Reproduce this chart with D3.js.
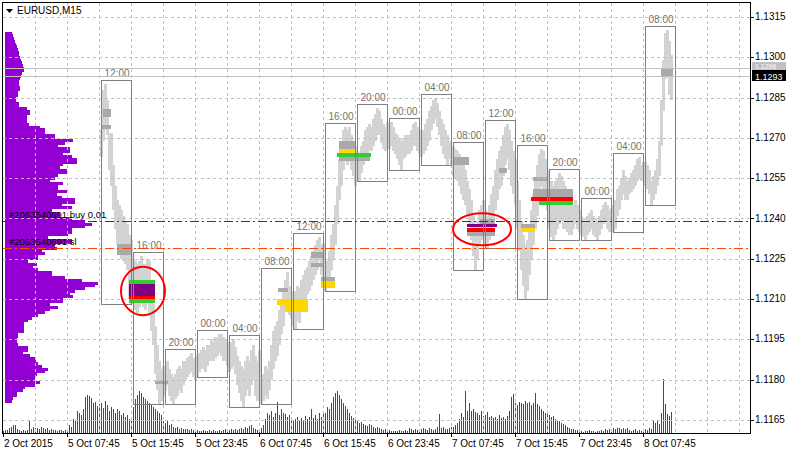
<!DOCTYPE html>
<html>
<head>
<meta charset="utf-8">
<title>EURUSD,M15</title>
<script src="https://d3js.org/d3.v7.min.js"></script>
<style>
  body { margin: 0; background: #fff; }
  text { font-family: "Liberation Sans", Arial, sans-serif; }
</style>
</head>
<body>
<svg id="chart" width="790" height="452"></svg>
<script>
// M15 bars starting 5 Oct 2015 12:00, grouped by 4h period (16 bars each)
const highs = [
  1.1273,1.1288,1.1290,1.1284,1.1272,1.1272,1.1260,1.1252,1.1247,1.1245,1.1243,1.1241,1.1239,1.1238,1.1234,1.1232,
  1.1225,1.1224,1.1223,1.1224,1.1226,1.1223,1.1223,1.1225,1.1224,1.1213,1.1208,1.1200,1.1193,1.1187,1.1184,1.1185,
  1.1185,1.1187,1.1184,1.1182,1.1181,1.1182,1.1184,1.1185,1.1184,1.1187,1.1187,1.1188,1.1189,1.1190,1.1188,1.1187,
  1.1189,1.1190,1.1191,1.1192,1.1191,1.1193,1.1193,1.1195,1.1194,1.1196,1.1196,1.1197,1.1197,1.1196,1.1195,1.1194,
  1.1193,1.1194,1.1195,1.1192,1.1189,1.1187,1.1185,1.1184,1.1187,1.1189,1.1187,1.1191,1.1193,1.1189,1.1187,1.1191,
  1.1180,1.1182,1.1185,1.1184,1.1187,1.1193,1.1198,1.1200,1.1202,1.1206,1.1210,1.1213,1.1217,1.1220,1.1215,1.1213,
  1.1212,1.1213,1.1215,1.1214,1.1217,1.1219,1.1221,1.1222,1.1224,1.1226,1.1228,1.1230,1.1232,1.1233,1.1230,1.1231,
  1.1225,1.1224,1.1228,1.1234,1.1238,1.1245,1.1252,1.1262,1.1269,1.1273,1.1274,1.1273,1.1274,1.1271,1.1269,1.1267,
  1.1265,1.1264,1.1267,1.1269,1.1273,1.1274,1.1275,1.1274,1.1277,1.1279,1.1281,1.1280,1.1277,1.1275,1.1274,1.1276,
  1.1275,1.1276,1.1274,1.1272,1.1271,1.1270,1.1269,1.1270,1.1271,1.1271,1.1271,1.1273,1.1275,1.1276,1.1274,1.1273,
  1.1271,1.1273,1.1275,1.1277,1.1280,1.1282,1.1284,1.1285,1.1283,1.1280,1.1277,1.1275,1.1273,1.1271,1.1269,1.1267,
  1.1267,1.1266,1.1265,1.1264,1.1262,1.1260,1.1258,1.1254,1.1251,1.1247,1.1241,1.1238,1.1239,1.1243,1.1245,1.1247,
  1.1243,1.1241,1.1245,1.1249,1.1252,1.1258,1.1262,1.1265,1.1267,1.1271,1.1274,1.1275,1.1273,1.1269,1.1265,1.1262,
  1.1254,1.1247,1.1239,1.1234,1.1230,1.1232,1.1238,1.1243,1.1249,1.1254,1.1260,1.1264,1.1266,1.1265,1.1262,1.1258,
  1.1252,1.1254,1.1252,1.1254,1.1255,1.1257,1.1256,1.1254,1.1252,1.1251,1.1249,1.1247,1.1245,1.1247,1.1245,1.1243,
  1.1241,1.1240,1.1239,1.1241,1.1242,1.1243,1.1241,1.1240,1.1239,1.1241,1.1243,1.1245,1.1246,1.1245,1.1243,1.1244,
  1.1245,1.1247,1.1251,1.1252,1.1255,1.1258,1.1256,1.1254,1.1255,1.1257,1.1258,1.1260,1.1262,1.1263,1.1260,1.1261,
  1.1261,1.1260,1.1258,1.1254,1.1256,1.1258,1.1262,1.1269,1.1284,1.1299,1.1309,1.1310,1.1306,1.1301
];
const lows = [
  1.1263,1.1269,1.1273,1.1271,1.1258,1.1252,1.1243,1.1236,1.1230,1.1228,1.1225,1.1224,1.1223,1.1221,1.1210,1.1208,
  1.1210,1.1206,1.1205,1.1207,1.1210,1.1207,1.1206,1.1210,1.1204,1.1198,1.1193,1.1182,1.1176,1.1171,1.1172,1.1174,
  1.1176,1.1178,1.1174,1.1172,1.1171,1.1173,1.1174,1.1176,1.1175,1.1178,1.1180,1.1181,1.1182,1.1183,1.1181,1.1180,
  1.1181,1.1183,1.1184,1.1184,1.1183,1.1185,1.1187,1.1187,1.1187,1.1188,1.1189,1.1190,1.1189,1.1187,1.1187,1.1185,
  1.1183,1.1184,1.1185,1.1182,1.1178,1.1175,1.1172,1.1170,1.1174,1.1176,1.1174,1.1178,1.1180,1.1174,1.1172,1.1178,
  1.1171,1.1172,1.1174,1.1173,1.1176,1.1180,1.1184,1.1187,1.1189,1.1193,1.1197,1.1200,1.1206,1.1210,1.1204,1.1203,
  1.1200,1.1199,1.1202,1.1201,1.1206,1.1207,1.1210,1.1212,1.1213,1.1215,1.1217,1.1219,1.1221,1.1224,1.1219,1.1217,
  1.1213,1.1214,1.1217,1.1221,1.1225,1.1230,1.1238,1.1247,1.1252,1.1258,1.1262,1.1260,1.1264,1.1258,1.1256,1.1252,
  1.1256,1.1254,1.1257,1.1260,1.1262,1.1264,1.1265,1.1265,1.1267,1.1269,1.1271,1.1271,1.1268,1.1266,1.1265,1.1267,
  1.1266,1.1267,1.1265,1.1264,1.1262,1.1260,1.1258,1.1262,1.1263,1.1264,1.1264,1.1265,1.1267,1.1267,1.1265,1.1264,
  1.1263,1.1264,1.1265,1.1267,1.1269,1.1273,1.1275,1.1277,1.1274,1.1271,1.1267,1.1264,1.1262,1.1260,1.1262,1.1260,
  1.1256,1.1255,1.1254,1.1252,1.1249,1.1247,1.1245,1.1241,1.1238,1.1232,1.1226,1.1221,1.1225,1.1230,1.1232,1.1232,
  1.1230,1.1229,1.1232,1.1234,1.1238,1.1243,1.1247,1.1251,1.1252,1.1256,1.1260,1.1262,1.1258,1.1252,1.1249,1.1245,
  1.1236,1.1228,1.1221,1.1215,1.1210,1.1213,1.1219,1.1225,1.1230,1.1236,1.1241,1.1247,1.1252,1.1251,1.1247,1.1243,
  1.1236,1.1233,1.1232,1.1234,1.1236,1.1238,1.1239,1.1236,1.1236,1.1235,1.1234,1.1234,1.1236,1.1238,1.1236,1.1235,
  1.1234,1.1233,1.1232,1.1234,1.1235,1.1236,1.1234,1.1233,1.1232,1.1234,1.1236,1.1238,1.1239,1.1236,1.1235,1.1236,
  1.1235,1.1236,1.1241,1.1243,1.1247,1.1249,1.1247,1.1247,1.1249,1.1250,1.1251,1.1252,1.1254,1.1255,1.1254,1.1254,
  1.1252,1.1251,1.1249,1.1245,1.1247,1.1249,1.1252,1.1256,1.1267,1.1280,1.1292,1.1293,1.1286,1.1284
];
const periodLabels = ["12:00","16:00","20:00","00:00","04:00","08:00",
                      "12:00","16:00","20:00","00:00","04:00","08:00",
                      "12:00","16:00","20:00","00:00","04:00","08:00"];

// tick volume, one per M15 bar, first bar = 2 Oct 23:45 (bar index -49)
const volumes = [
  2,3,3,5,6,8,8,4,3,2,3,2,3,12,4,6,5,5,4,6,5,4,5,3,4,3,3,2,3,3,2,3,3,
  8,6,14,12,22,20,18,24,36,38,37,35,30,31,27,29,
  30,25,32,28,22,26,24,20,24,22,18,20,16,18,14,15,
  26,34,38,42,40,36,34,32,30,28,26,24,22,20,18,12,
  10,12,8,9,6,5,6,4,5,4,4,4,3,4,3,3,
  3,2,2,3,2,2,3,2,3,2,2,3,2,3,4,3,
  3,4,3,4,3,4,5,4,6,5,7,8,5,4,3,3,
  5,8,14,20,18,22,16,20,31,18,24,20,19,16,18,14,
  12,14,16,12,15,13,17,14,16,24,15,18,14,20,16,22,
  20,26,24,30,36,40,42,38,34,30,27,24,20,17,15,14,
  12,10,11,9,8,7,9,8,6,5,6,5,4,3,4,4,
  3,2,2,2,2,3,2,2,3,2,5,4,3,4,3,3,
  4,5,4,3,5,4,3,4,6,19,5,6,4,4,5,6,
  6,8,10,14,20,16,42,22,30,22,24,21,20,18,22,17,
  18,21,16,17,15,16,14,18,15,16,14,17,22,36,39,30,
  28,31,30,29,32,30,31,28,30,40,29,27,24,22,20,22,
  18,16,17,14,13,12,10,9,8,6,5,4,4,3,3,2,
  2,1,2,2,3,2,2,1,2,2,3,2,4,3,4,4,
  5,4,5,5,4,5,4,5,3,2,3,4,2,3,2,4,
  4,3,5,4,13,10,12,9,20,54,29,19,17,21
];

// market profile, one row per pip from 1.1309 downwards
const profileTop = 1.1309;
const profile = [
  7,8,9,10,11,12,13,14,14,15, 16,17,18,19,19,17,16,15,14,14,
  15,15,13,13,11,11,14,14,22,25, 25,22,22,22,24,35,40,40,50,50,
  68,60,53,65,65,58,67,72,72,58, 55,62,62,53,50,45,58,53,53,62,
  52,57,70,70,57,67,47,55,55,67, 80,87,80,67,67,63,43,67,67,50,
  52,37,40,33,33,23,32,28,33,47, 47,60,77,93,90,80,70,65,68,58,
  58,45,53,45,40,33,27,23,19,19, 19,19,13,13,12,12,13,23,23,18,
  25,31,31,33,37,43,40,32,30,30, 35,30,20,18,12,12,8,7
];

// levels drawn inside the periods (bar index range, price range)
const zones = [
  {from:1, to:5, hi:1.12808, lo:1.12778, kind:"level"},
  {from:0, to:5, hi:1.12748, lo:1.12733, kind:"level"},
  {from:8, to:15.5, hi:1.12305, lo:1.12264, kind:"level"},
  {from:27, to:33.5, hi:1.11795, lo:1.11784, kind:"level"},
  {from:88.5, to:93.5, hi:1.12141, lo:1.12126, kind:"level"},
  {from:105, to:111, hi:1.12275, lo:1.12253, kind:"level"},
  {from:105, to:111, hi:1.12234, lo:1.12219, kind:"level"},
  {from:110, to:117, hi:1.12182, lo:1.12167, kind:"level"},
  {from:119, to:127, hi:1.12688, lo:1.12659, kind:"level"},
  {from:119, to:134.5, hi:1.12629, lo:1.12614, kind:"level"},
  {from:176, to:184, hi:1.12629, lo:1.12599, kind:"level"},
  {from:199, to:203, hi:1.12588, lo:1.12569, kind:"level"},
  {from:183, to:197, hi:1.12350, lo:1.12335, kind:"level"},
  {from:189.5, to:197, hi:1.12398, lo:1.12380, kind:"level"},
  {from:216, to:223, hi:1.12554, lo:1.12540, kind:"level"},
  {from:216, to:236, hi:1.12510, lo:1.12480, kind:"level"},
  {from:210, to:217, hi:1.12380, lo:1.12365, kind:"level"},
  {from:280, to:286, hi:1.12960, lo:1.12930, kind:"level"},
  {from:14, to:27, hi:1.12171, lo:1.12156, kind:"green"},
  {from:14, to:27, hi:1.12156, lo:1.12112, kind:"purple"},
  {from:14, to:27, hi:1.12112, lo:1.12100, kind:"red"},
  {from:14, to:27, hi:1.12100, lo:1.12086, kind:"green"},
  {from:88, to:103.5, hi:1.12100, lo:1.12078, kind:"yellow"},
  {from:92, to:103.5, hi:1.12078, lo:1.12052, kind:"yellow"},
  {from:110, to:117, hi:1.12167, lo:1.12141, kind:"yellow"},
  {from:119, to:127, hi:1.12659, lo:1.12644, kind:"yellow"},
  {from:118, to:135, hi:1.12644, lo:1.12629, kind:"green"},
  {from:183, to:198, hi:1.12380, lo:1.12368, kind:"purple"},
  {from:183, to:197, hi:1.12365, lo:1.12350, kind:"red"},
  {from:210, to:217, hi:1.12365, lo:1.12350, kind:"yellow"},
  {from:215, to:236, hi:1.12480, lo:1.12465, kind:"red"},
  {from:219, to:236, hi:1.12465, lo:1.12450, kind:"green"}
];
const circles = [
  {from:10, to:32, hi:1.1222, lo:1.1204},
  {from:176, to:205, hi:1.1242, lo:1.1230}
];
const orders = [
  {price:1.1239, label:"#2063540691 buy 0.01", kind:"buy"},
  {price:1.1229, label:"#2063540691 sl", kind:"sl"}
];
const ask = 1.1296, bid = 1.1293;

const priceTicks = d3.range(0, 11).map(k => 1.1165 + k * 0.0015);
const timeTicks = [-49, -17, 15, 47, 79, 111, 143, 175, 207, 239, 271];
const timeLabels = ["2 Oct 2015","5 Oct 07:45","5 Oct 15:45","5 Oct 23:45","6 Oct 07:45",
                    "6 Oct 15:45","6 Oct 23:45","7 Oct 07:45","7 Oct 15:45","7 Oct 23:45","8 Oct 07:45"];

const zoneColor = {level:"#a9a9a9", green:"#32cd32", purple:"#800080", red:"#ff0000", yellow:"#ffd700"};

// plot frame
const L = 2, R = 750, T = 2, B = 433;

const x = d3.scaleLinear().domain([-49, 324]).range([3, 749]);
const y = d3.scaleLinear().domain([1.1165, 1.1315]).range([420, 17]);
const vy = d3.scaleLinear().domain([0, 60]).range([B, B - 60]);
const px = d3.scaleLinear().domain([0, 100]).range([5, 105]);

const svg = d3.select("#chart");
svg.append("rect").attr("width", 790).attr("height", 452).attr("fill", "#fff");

// profile on the left
svg.append("g").attr("shape-rendering", "crispEdges")
  .selectAll("rect").data(profile).join("rect")
  .attr("x", px(0))
  .attr("y", (d, k) => y(profileTop - k * 0.0001 + 0.00005))
  .attr("width", d => px(d) - px(0))
  .attr("height", y(1.1200) - y(1.1201) + 0.3)
  .attr("fill", "#9400d3");

// volumes
svg.append("g").attr("shape-rendering", "crispEdges")
  .selectAll("rect").data(volumes).join("rect")
  .attr("x", (d, k) => x(k - 49))
  .attr("y", d => vy(d))
  .attr("width", 1)
  .attr("height", d => B - vy(d))
  .attr("fill", "#008000");

// price trace
const bars = highs.map((h, i) => ({i: i, h: h, l: lows[i]}));
svg.append("g").attr("shape-rendering", "crispEdges")
  .selectAll("rect").data(bars).join("rect")
  .attr("x", d => x(d.i) - 1)
  .attr("y", d => Math.round(y(d.h)))
  .attr("width", 3)
  .attr("height", d => Math.max(1, Math.round(y(d.l)) - Math.round(y(d.h))))
  .attr("fill", "#d3d3d3");

// dark levels first, coloured ones on top
svg.append("g").attr("shape-rendering", "crispEdges")
  .selectAll("rect").data(zones.filter(z => z.kind == "level")).join("rect")
  .attr("x", d => x(d.from)).attr("width", d => x(d.to) - x(d.from))
  .attr("y", d => y(d.hi)).attr("height", d => y(d.lo) - y(d.hi))
  .attr("fill", zoneColor.level);

// grid
const grid = svg.append("g").attr("stroke", "#c0c0c0").attr("stroke-dasharray", "3,3")
  .attr("shape-rendering", "crispEdges");
grid.selectAll("line.h").data(priceTicks).join("line").attr("class", "h")
  .attr("x1", L + 1).attr("x2", R).attr("y1", d => Math.round(y(d)) + 0.5).attr("y2", d => Math.round(y(d)) + 0.5);
grid.selectAll("line.v").data(d3.range(-33, 324, 16)).join("line").attr("class", "v")
  .attr("y1", T + 1).attr("y2", B).attr("x1", d => Math.round(x(d)) + 0.5).attr("x2", d => Math.round(x(d)) + 0.5);

svg.append("g").attr("shape-rendering", "crispEdges")
  .selectAll("rect").data(zones.filter(z => z.kind != "level")).join("rect")
  .attr("x", d => x(d.from)).attr("width", d => x(d.to) - x(d.from))
  .attr("y", d => y(d.hi)).attr("height", d => y(d.lo) - y(d.hi))
  .attr("fill", d => zoneColor[d.kind]);

// 4h period boxes
const periods = periodLabels.map((lab, b) => {
  let hs = highs.slice(b * 16, b * 16 + 16), ls = lows.slice(b * 16, b * 16 + 16);
  return {start: b * 16, label: lab, hi: d3.max(hs), lo: d3.min(ls)};
});
const pg = svg.append("g");
pg.selectAll("rect").data(periods).join("rect")
  .attr("x", d => Math.round(x(d.start)) + 0.5)
  .attr("y", d => Math.round(y(d.hi)) - 3.5)
  .attr("width", d => x(d.start + 15) - x(d.start))
  .attr("height", d => Math.round(y(d.lo)) - Math.round(y(d.hi)) + 4)
  .attr("fill", "none").attr("stroke", "#808080");
pg.selectAll("text").data(periods).join("text")
  .attr("x", d => (x(d.start) + x(d.start + 15)) / 2 + 1)
  .attr("y", d => Math.round(y(d.hi)) - 7)
  .attr("text-anchor", "middle").attr("font-size", "10px").attr("fill", "#757575")
  .text(d => d.label);

// circles
svg.append("g").selectAll("ellipse").data(circles).join("ellipse")
  .attr("cx", d => (x(d.from) + x(d.to)) / 2)
  .attr("cy", d => (y(d.hi) + y(d.lo)) / 2)
  .attr("rx", d => (x(d.to) - x(d.from)) / 2)
  .attr("ry", d => (y(d.lo) - y(d.hi)) / 2)
  .attr("fill", "none").attr("stroke", "#ff0000").attr("stroke-width", 2);

// bid / ask lines
svg.append("g").selectAll("line").data([ask, bid]).join("line")
  .attr("x1", L + 1).attr("x2", R)
  .attr("y1", d => Math.round(y(d)) + 0.5).attr("y2", d => Math.round(y(d)) + 0.5)
  .attr("stroke", "#c0c0c0");

// order lines
const og = svg.append("g");
og.selectAll("line").data(orders).join("line")
  .attr("x1", L + 1).attr("x2", R)
  .attr("y1", d => Math.round(y(d.price)) + 0.5).attr("y2", d => Math.round(y(d.price)) + 0.5)
  .attr("stroke", d => d.kind == "buy" ? "#006400" : "#ff4500")
  .attr("stroke-dasharray", "9,3,2,3");
og.selectAll("text").data(orders).join("text")
  .attr("x", 9).attr("y", d => Math.round(y(d.price)) - 3)
  .attr("font-size", "9.5px").attr("fill", "#000")
  .text(d => d.label);

// frame
svg.append("rect").attr("x", L + 0.5).attr("y", T + 0.5).attr("width", R - L).attr("height", B - T)
  .attr("fill", "none").attr("stroke", "#000");

// price axis
const ay = svg.append("g");
ay.selectAll("line").data(priceTicks).join("line")
  .attr("x1", R).attr("x2", R + 4)
  .attr("y1", d => Math.round(y(d)) + 0.5).attr("y2", d => Math.round(y(d)) + 0.5).attr("stroke", "#000");
ay.selectAll("text").data(priceTicks).join("text")
  .attr("x", 755).attr("y", d => y(d) + 3)
  .attr("font-size", "10px").attr("fill", "#000")
  .text(d => d.toFixed(4));

// current price tags: ask above, bid below
const tags = [{p: ask, bg: "#c0c0c0", top: -6, h: 8, fs: 7, base: 1.3},
              {p: bid, bg: "#000", top: -6, h: 11, fs: 9, base: 4}];
tags.forEach(t => {
  let cy = Math.round(y(t.p));
  svg.append("rect").attr("x", 752).attr("y", cy + t.top).attr("width", 34).attr("height", t.h).attr("fill", t.bg);
  svg.append("text").attr("x", 755).attr("y", cy + t.base).attr("font-size", t.fs + "px")
    .attr("fill", "#fff").text(t.p.toFixed(4));
});

// time axis
const ax = svg.append("g");
ax.selectAll("line").data(timeTicks).join("line")
  .attr("x1", d => Math.round(x(d)) + 0.5).attr("x2", d => Math.round(x(d)) + 0.5)
  .attr("y1", B).attr("y2", B + 4).attr("stroke", "#000");
ax.selectAll("text").data(timeTicks).join("text")
  .attr("x", d => x(d) + 1).attr("y", 447)
  .attr("font-size", "10px").attr("fill", "#000")
  .text((d, k) => timeLabels[k]);

// title
svg.append("path").attr("d", "M6,9 L13,9 L9.5,13 Z").attr("fill", "#000");
svg.append("text").attr("x", 17).attr("y", 14).attr("font-size", "10px").attr("fill", "#000").text("EURUSD,M15");
</script>
</body>
</html>
